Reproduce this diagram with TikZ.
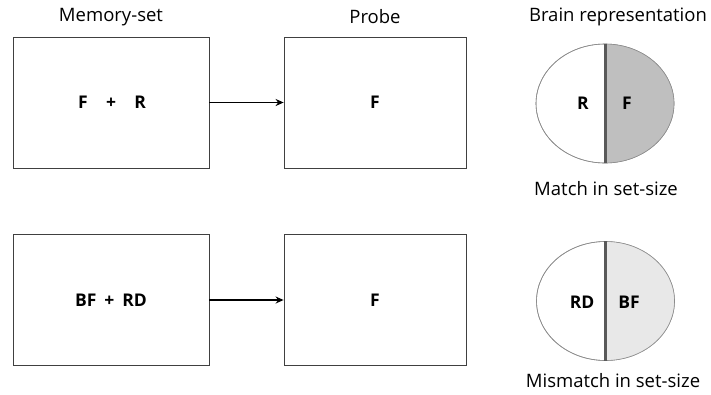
\documentclass[tikz,border=0pt]{standalone}
\usepackage{fontspec}
\setmainfont{Open Sans}
\usetikzlibrary{arrows.meta,shapes.geometric,calc}
\begin{document}
\begin{tikzpicture}[x=1pt,y=-1pt,
  panel/.style={draw=black!75, line width=0.8pt, minimum width=196pt, minimum height=131pt, inner sep=0pt},
  probebox/.style={draw=black!75, line width=0.8pt, minimum width=182pt, minimum height=131pt, inner sep=0pt},
  heading/.style={font=\fontsize{18.5}{20}\selectfont},
  item/.style={font=\bfseries\fontsize{17.5}{19}\selectfont},
  caption/.style={font=\fontsize{18.5}{20}\selectfont},
  link/.style={-{Stealth[length=8pt,width=7pt]}, line width=1.4pt},
  brain/.style={ellipse, draw=black!45, line width=0.6pt, minimum width=138pt, minimum height=119pt, inner sep=0pt},
  divider/.style={draw=black!65, line width=3pt}]
\useasboundingbox (0,0) rectangle (711,394);

% column headings
\node[heading] (hmem) at (111,17) {Memory-set};
\node[heading] (hprobe) at (375,17) {Probe};
\node[heading] (hbrain) at (618,17) {Brain representation};

% upper row
\node[panel] (mem1) at (111,102.5) {};
\node[item] at (112,102.5) {F\hspace{1.05em}+\hspace{1.05em}R};
\node[probebox] (probe1) at (375,102.5) {};
\node[item] at (probe1.center) {F};
\draw[link] (mem1.east) -- (probe1.west);

\coordinate (b1) at (605,103.5);
\node[brain, fill=white] (brain1) at (b1) {};
\fill[black!25] ($(b1)+(0,-59.5)$) arc[start angle=-90, end angle=90, x radius=69, y radius=59.5] -- cycle;
\node[brain] at (b1) {};
\draw[divider] (brain1.north) -- (brain1.south);
\node[item] at (583,103) {R};
\node[item] at (627,103) {F};
\node[caption] (cap1) at (606,189) {Match in set-size};

% lower row
\node[panel] (mem2) at (111,300) {};
\node[item] at (111,300) {BF\hspace{0.45em}+\hspace{0.45em}RD};
\node[probebox] (probe2) at (375,300) {};
\node[item] at (probe2.center) {F};
\draw[link] (mem2.east) -- (probe2.west);

\coordinate (b2) at (605.5,301);
\node[brain, fill=white] (brain2) at (b2) {};
\fill[black!9] ($(b2)+(0,-59.5)$) arc[start angle=-90, end angle=90, x radius=69, y radius=59.5] -- cycle;
\node[brain] at (b2) {};
\draw[divider] (brain2.north) -- (brain2.south);
\node[item] at (582,302) {RD};
\node[item] at (629,302) {BF};
\node[caption] (cap2) at (613,381) {Mismatch in set-size};
\end{tikzpicture}
\end{document}
